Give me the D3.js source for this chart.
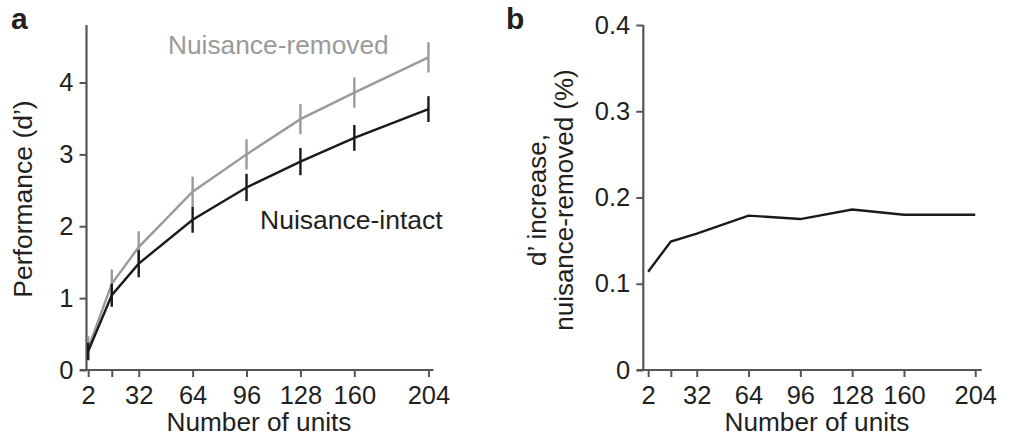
<!DOCTYPE html>
<html>
<head>
<meta charset="utf-8">
<script src="https://cdn.jsdelivr.net/npm/d3@7"></script>
<style>
  body { margin: 0; background: #fff; }
  text { font-family: "Liberation Sans", Arial, sans-serif; fill: #231f20; }
</style>
</head>
<body>
<div id="chart"></div>
<script>
// donnees
const unites = [2, 16, 32, 64, 96, 128, 160, 204];
const tickX = [2, 16, 32, 64, 96, 128, 160, 204];
const labelX = ["2", "", "32", "64", "96", "128", "160", "204"];

const retire = [0.30, 1.20, 1.71, 2.48, 3.00, 3.49, 3.86, 4.35];      // Nuisance-removed
const retireErr = [0.17, 0.20, 0.22, 0.21, 0.21, 0.21, 0.21, 0.21];
const intact = [0.26, 1.04, 1.48, 2.09, 2.54, 2.90, 3.23, 3.63];      // Nuisance-intact
const intactErr = [0.12, 0.16, 0.19, 0.18, 0.19, 0.19, 0.18, 0.18];

const hausse = [0.114, 0.149, 0.158, 0.179, 0.175, 0.186, 0.180, 0.180];

const ticksA = [0, 1, 2, 3, 4];
const ticksB = [0, 0.1, 0.2, 0.3, 0.4];

const couleurAxe = "#555";
const noir = "#1a1a1a";
const gris = "#9a9a9a";

const svg = d3.select("#chart").append("svg").attr("width", 1021).attr("height", 441);

function axes(g, x, y, yTicks, yFmt, xLeft, yTop){
    let x0 = x.range()[0], x1 = x.range()[1], y0 = y(0);
    // ticks x
    g.append("g").attr("transform", "translate(0," + y0 + ")")
        .call(d3.axisBottom(x).tickValues(tickX).tickFormat((d, i) => labelX[i]).tickSize(7).tickPadding(9))
        .call(a => a.select(".domain").remove())
        .call(a => a.selectAll("line").attr("stroke", couleurAxe).attr("stroke-width", 2))
        .call(a => a.selectAll("text").attr("font-size", 25.5).attr("fill", "#231f20")
            .attr("font-family", "Liberation Sans, Arial, sans-serif"));
    g.append("g").attr("transform", "translate(" + x0 + ",0)")
        .call(d3.axisLeft(y).tickValues(yTicks).tickFormat(yFmt).tickSize(7).tickPadding(6))
        .call(a => a.select(".domain").remove())
        .call(a => a.selectAll("line").attr("stroke", couleurAxe).attr("stroke-width", 2))
        .call(a => a.selectAll("text").attr("font-size", 25.5).attr("fill", "#231f20")
            .attr("font-family", "Liberation Sans, Arial, sans-serif"));
    // lignes d'axe
    g.append("line").attr("x1", xLeft).attr("x2", x1).attr("y1", y0).attr("y2", y0)
        .attr("stroke", couleurAxe).attr("stroke-width", 2.2);
    g.append("line").attr("x1", x0).attr("x2", x0).attr("y1", yTop).attr("y2", y0 + 1)
        .attr("stroke", couleurAxe).attr("stroke-width", 2.2);
}

// ---- panneau a ----
let xa = d3.scaleLinear().domain([1, 207]).range([86.5, 433.5]);
let ya = d3.scaleLinear().domain([0, 4.8]).range([370, 25]);
let ga = svg.append("g");
axes(ga, xa, ya, ticksA, d3.format("d"), 80, 25);

let ligneA = d3.line().x((d, i) => xa(unites[i])).y(d => ya(d));

ga.append("path").datum(retire).attr("d", ligneA).attr("fill", "none").attr("stroke", gris).attr("stroke-width", 2.4);
ga.selectAll(".errR").data(retire).enter().append("line")
    .attr("x1", (d, i) => xa(unites[i])).attr("x2", (d, i) => xa(unites[i]))
    .attr("y1", (d, i) => ya(d - retireErr[i])).attr("y2", (d, i) => ya(d + retireErr[i]))
    .attr("stroke", gris).attr("stroke-width", 2.4);

ga.append("path").datum(intact).attr("d", ligneA).attr("fill", "none").attr("stroke", noir).attr("stroke-width", 2.4);
ga.selectAll(".errI").data(intact).enter().append("line")
    .attr("x1", (d, i) => xa(unites[i])).attr("x2", (d, i) => xa(unites[i]))
    .attr("y1", (d, i) => ya(d - intactErr[i])).attr("y2", (d, i) => ya(d + intactErr[i]))
    .attr("stroke", noir).attr("stroke-width", 2.4);

ga.append("text").attr("x", 168).attr("y", 54).attr("font-size", 26.3).style("fill", gris).text("Nuisance-removed");
ga.append("text").attr("x", 260).attr("y", 229).attr("font-size", 26.5).text("Nuisance-intact");
ga.append("text").attr("x", 259).attr("y", 431).attr("font-size", 26.2).attr("text-anchor", "middle").text("Number of units");
ga.append("text").attr("transform", "translate(32,199) rotate(-90)").attr("font-size", 26.5)
    .attr("text-anchor", "middle").text("Performance (d’)");
ga.append("text").attr("x", 11).attr("y", 29).attr("font-size", 30).attr("font-weight", "bold").text("a");

// ---- panneau b ----
let xb = d3.scaleLinear().domain([-1, 208]).range([643.3, 981.7]);
let yb = d3.scaleLinear().domain([0, 0.4]).range([370, 25]);
let gb = svg.append("g");
axes(gb, xb, yb, ticksB, d => d === 0 ? "0" : d3.format(".1f")(d), 637, 25);

gb.append("path").datum(hausse)
    .attr("d", d3.line().x((d, i) => xb(unites[i])).y(d => yb(d)))
    .attr("fill", "none").attr("stroke", noir).attr("stroke-width", 2.4);

gb.append("text").attr("x", 817).attr("y", 431).attr("font-size", 26.2).attr("text-anchor", "middle").text("Number of units");
gb.append("text").attr("transform", "translate(546,200) rotate(-90)").attr("font-size", 26)
    .attr("text-anchor", "middle").text("d’ increase,");
gb.append("text").attr("transform", "translate(573,200) rotate(-90)").attr("font-size", 26)
    .attr("text-anchor", "middle").text("nuisance-removed (%)");
gb.append("text").attr("x", 506).attr("y", 29).attr("font-size", 30).attr("font-weight", "bold").text("b");
</script>
</body>
</html>
